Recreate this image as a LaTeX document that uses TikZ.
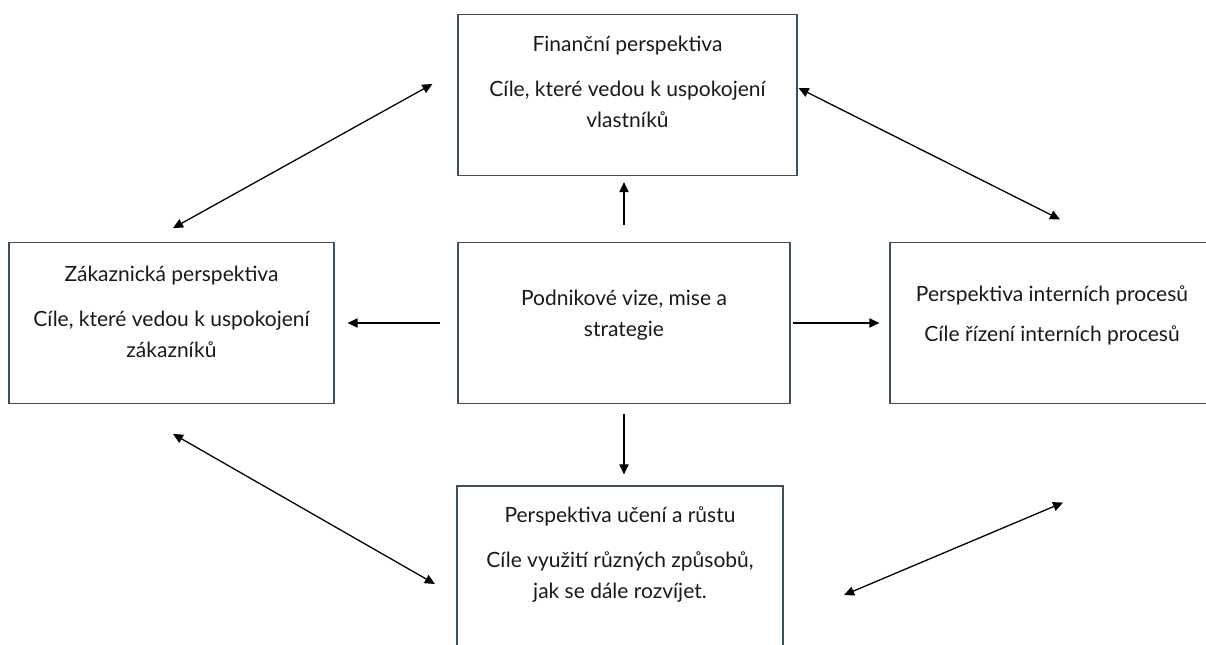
\documentclass[tikz,border=0pt]{standalone}
\usepackage{fontspec}
\setmainfont{Lato}
\usepackage{tikz}
\usetikzlibrary{arrows.meta, calc}
\definecolor{boxline}{RGB}{60,80,95}
\definecolor{txt}{RGB}{25,25,25}
\tikzstyle{block} = [rectangle, draw=boxline, line width=0.6pt, text=txt,
    align=center, inner sep=0pt, minimum height=80.5pt,
    font=\fontsize{10.5}{15.5}\selectfont]
\tikzstyle{arrow} = [draw, line width=0.65pt, -{Triangle[length=5pt, width=4.6pt]}]
\tikzstyle{biarrow} = [draw, line width=0.65pt, {Triangle[length=5pt, width=4.6pt]}-{Triangle[length=5pt, width=4.6pt]}]

\begin{document}
\begin{tikzpicture}[node distance=2cm]
    % Frame
    \clip (-312pt,-160.5pt) rectangle (291pt,161.5pt);
    \useasboundingbox (-312pt,-160.5pt) rectangle (291pt,161.5pt);

    % Nodes
    \node [block, minimum width=166pt, text depth=9.5pt] (vize) {Podnikové vize, mise a\\strategie};
    \node [block, above of=vize, node distance=114pt, xshift=1.75pt, minimum width=169.5pt, text depth=13pt] (financni)
        {Finanční perspektiva\\[7pt]Cíle, které vedou k uspokojení\\vlastníků};
    \node [block, left of=vize, node distance=226.25pt, minimum width=162.5pt, text depth=11.5pt] (zakaznik)
        {Zákaznická perspektiva\\[7pt]Cíle, které vedou k uspokojení\\zákazníků};
    \node [block, right of=vize, node distance=214pt, minimum width=162pt, text depth=9pt] (procesy)
        {Perspektiva interních procesů\\[4.5pt]Cíle řízení interních procesů};
    \node [block, below of=vize, node distance=121.75pt, xshift=-2pt, minimum width=163pt, text depth=13.5pt] (uceni)
        {Perspektiva učení a růstu\\[7pt]Cíle využití různých způsobů,\\jak se dále rozvíjet.};

    % Arrows from the centre
    \draw [arrow, shorten <=8.5pt, shorten >=3pt] (vize.north) -- (vize.north |- financni.south);
    \draw [arrow, shorten <=5pt, shorten >=5.5pt] (vize.south) -- (vize.south |- uceni.north);
    \draw [arrow] ([xshift=-8.5pt]vize.west) -- ([xshift=6.5pt]zakaznik.east);
    \draw [arrow] ([xshift=1pt]vize.east) -- ([xshift=-5pt]procesy.west);

    % Arrows between the perspectives
    \draw [biarrow] ([xshift=0.75pt,yshift=6.9pt]zakaznik.north) -- ([xshift=-12.5pt,yshift=5.5pt]financni.west);
    \draw [biarrow] ([xshift=0.5pt,yshift=3.5pt]financni.east) -- ([xshift=4pt,yshift=11.25pt]procesy.north);
    \draw [biarrow] ([xshift=0.75pt,yshift=-14.9pt]zakaznik.south) -- ([xshift=-10.75pt,yshift=-8.75pt]uceni.west);
    \draw [biarrow] ([xshift=5.5pt,yshift=-49.25pt]procesy.south) -- ([xshift=30.25pt,yshift=-14.25pt]uceni.east);

\end{tikzpicture}
\end{document}
